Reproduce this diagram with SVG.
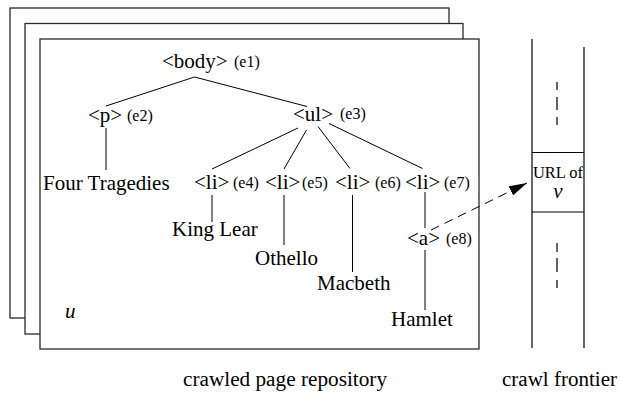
<svg xmlns="http://www.w3.org/2000/svg" width="620" height="393" viewBox="0 0 620 393" font-family="Liberation Serif, serif">
  <style>
    .page { fill: #fff; stroke: #2a2a2a; stroke-width: 1.3; }
    .edge { stroke: #000; stroke-width: 1; fill: none; }
    .wall { stroke: #000; stroke-width: 1.2; fill: none; }
    .dots { stroke: #000; stroke-width: 1.2; fill: none; }
    .lbl { font-family: 'Liberation Serif', serif; font-size: 21px; fill: #000; }
    .tag { font-family: 'Liberation Serif', serif; font-size: 16px; fill: #000; }
    .url { font-family: 'Liberation Serif', serif; font-size: 17px; fill: #000; }
    .var { font-family: 'Liberation Serif', serif; font-size: 21px; font-style: italic; fill: #000; }
    .cap { font-family: 'Liberation Serif', serif; font-size: 20px; fill: #000; }
  </style>
  <defs>
    <marker id="head" viewBox="0 0 18 10" refX="18" refY="5" markerWidth="18" markerHeight="10" markerUnits="userSpaceOnUse" orient="auto">
      <path d="M0,0 L18,5 L0,10 z" fill="#000"/>
    </marker>
  </defs>

  <rect width="620" height="393" fill="#fff"/>

  <!-- stack of crawled pages -->
  <g id="page-stack">
    <rect class="page" x="10" y="8" width="439" height="310"/>
    <rect class="page" x="25" y="23.5" width="438" height="310.5"/>
    <rect class="page" x="40" y="39" width="439" height="310"/>
  </g>

  <!-- crawl frontier queue -->
  <g id="frontier">
    <line class="wall" x1="532" y1="39" x2="532" y2="348"/>
    <line class="wall" x1="584" y1="47" x2="584" y2="348"/>
    <line class="wall" x1="532" y1="152.5" x2="584" y2="152.5"/>
    <line class="wall" x1="532" y1="212" x2="584" y2="212"/>
    <path class="dots" d="M557,82 V90 M557,97 V110 M557,117 V125 M557,243 V252 M557,258 V272 M557,280 V288"/>
  </g>

  <!-- tree edges and link arrow -->
  <g id="connectors">
    <path class="edge" d="M194.5,77 L106,106 M194.5,77 L307,106.5"/>
    <path class="edge" d="M106,128 V170"/>
    <path class="edge" d="M298,128 L212,169 M306.5,130 L284,169 M318,126.5 L350,168.5 M329,123.5 L422.5,168.5"/>
    <path class="edge" d="M212,195 V222 M284,195 V245 M352.5,195 V272 M425,192 V228 M425,250 V310"/>
    <line class="edge" x1="431" y1="230" x2="527" y2="183" stroke-dasharray="9,6" marker-end="url(#head)"/>
  </g>

  <g id="n-body"><text class="lbl" x="162" y="68">&lt;body&gt;</text><text class="tag" x="234" y="67">(e1)</text></g>
  <g id="n-p"><text class="lbl" x="88" y="122">&lt;p&gt;</text><text class="tag" x="127" y="121">(e2)</text></g>
  <g id="n-ul"><text class="lbl" x="293" y="121">&lt;ul&gt;</text><text class="tag" x="340" y="119">(e3)</text></g>
  <g id="n-four"><text class="lbl" x="43" y="190">Four Tragedies</text></g>
  <g id="n-li4"><text class="lbl" x="194" y="189">&lt;li&gt;</text><text class="tag" x="233" y="188">(e4)</text></g>
  <g id="n-li5"><text class="lbl" x="265" y="189">&lt;li&gt;</text><text class="tag" x="302" y="188">(e5)</text></g>
  <g id="n-li6"><text class="lbl" x="335" y="189">&lt;li&gt;</text><text class="tag" x="375" y="188">(e6)</text></g>
  <g id="n-li7"><text class="lbl" x="405" y="189">&lt;li&gt;</text><text class="tag" x="444" y="188">(e7)</text></g>
  <g id="n-lear"><text class="lbl" x="172" y="236">King Lear</text></g>
  <g id="n-othello"><text class="lbl" x="255" y="265">Othello</text></g>
  <g id="n-macbeth"><text class="lbl" x="317" y="290">Macbeth</text></g>
  <g id="n-a"><text class="lbl" x="407" y="245">&lt;a&gt;</text><text class="tag" x="446" y="244">(e8)</text></g>
  <g id="n-hamlet"><text class="lbl" x="391" y="326">Hamlet</text></g>
  <g id="n-u"><text class="var" x="65" y="318">u</text></g>

  <g id="n-url">
    <text class="url" x="533" y="178" textLength="50" lengthAdjust="spacingAndGlyphs">URL of</text>
    <text class="var" x="558" y="197.5" text-anchor="middle" font-size="20">v</text>
  </g>

  <g id="captions">
    <text class="cap" x="183" y="386" textLength="204" lengthAdjust="spacingAndGlyphs">crawled page repository</text>
    <text class="cap" x="502" y="386" textLength="115" lengthAdjust="spacingAndGlyphs">crawl frontier</text>
  </g>
</svg>
